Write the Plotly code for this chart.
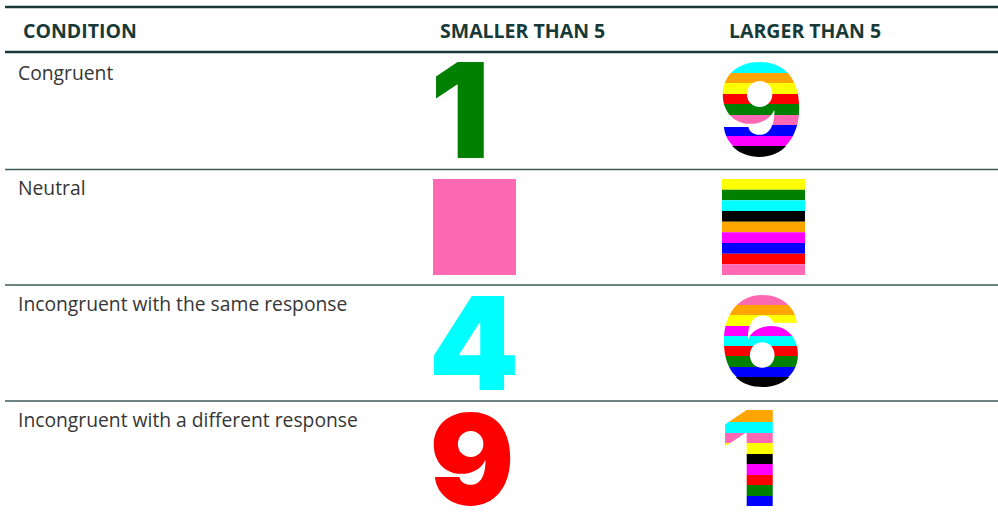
import math
import plotly.graph_objects as go

# ---------------- data ----------------
header_labels = ["CONDITION", "SMALLER THAN 5", "LARGER THAN 5"]
condition_labels = ["Congruent", "Neutral",
                    "Incongruent with the same response",
                    "Incongruent with a different response"]
smaller_digits = ["1", "", "4", "9"]          # "" = neutral block
smaller_colors = ["#008000", "#ff69b4", "#00ffff", "#ff0000"]
larger_digits = ["9", "", "6", "1"]
larger_stripes = [
    ["#00ffff", "#ffa500", "#ffff00", "#ff0000", "#008000", "#ff69b4", "#0000ff", "#ff00ff", "#000000"],
    ["#ffff00", "#008000", "#00ffff", "#000000", "#ffa500", "#ff00ff", "#0000ff", "#ff0000", "#ff69b4"],
    ["#ff69b4", "#ffa500", "#ffff00", "#ff00ff", "#00ffff", "#ff0000", "#008000", "#0000ff", "#000000"],
    ["#ffa500", "#00ffff", "#ff69b4", "#ffff00", "#000000", "#ff00ff", "#ff0000", "#008000", "#0000ff"],
]

# ---------------- layout geometry ----------------
FIG_W, FIG_H = 998, 515
row_tops = [52, 169.5, 285, 401]
label_baselines = [78.5, 194, 309.5, 425.5]
header_baseline = 36.5
header_x = [22, 439, 728]
label_x = 17
LINE_X0, LINE_X1 = 5, 998
DARK = "#173a38"
SEP = "#3f5a58"
BODY_SIZE = 19.3
HEAD_SIZE = 19.5

# digit cells: (ink centre x, baseline y, font px, stripe top, stripe bottom)
small_geo = [(460, 158, 132, None, None), None, (474, 390, 129, None, None), (471.5, 505.5, 126, None, None)]
large_geo = [(761, 155.5, 126, 62, 157), None, (760.5, 385.5, 122, 295, 387), (749, 506.5, 132, 411.5, 506.5)]
neutral_small_box = (433, 516, 179, 275)
neutral_large_box = (722, 805, 179, 275)

DIGIT_FONT = "Inter"
DIGIT_WEIGHT = 900
ASC, DESC = 0.969, 0.242
LS = 1.3
FILL = "&nbsp;"   # invisible spacer glyph that still has a line box


def solve_lines(delta, D):
    best = None
    for n in range(-300, 301):
        den = 0.65 * n + (ASC - DESC) / 2
        if abs(den) < 1e-9:
            continue
        s = delta / den
        if s < 1.5 or s > 6:
            continue
        score = abs(s - 3)
        if best is None or score < best[0]:
            best = (score, n, s)
    _, n, s = best
    u = LS * s
    jmin = math.ceil((ASC * D + 8) / u)
    kmin = math.ceil((DESC * D + 8) / u)
    j = max(jmin, kmin + n)
    k = j - n
    if k < kmin:
        j += kmin - k
        k = kmin
    return s, j, k


def band_annotation(ch, cx, baseline, D, y0, y1, color):
    if abs(baseline - (y0 + y1) / 2) < 1:
        y1 += 2
    yc = (y0 + y1) / 2
    hh = y1 - y0
    s, j, k = solve_lines(baseline - yc, D)
    text = FILL + "<br>" * j + f'<span style="font-size:{D}px">{ch}</span>' + "<br>" * k + FILL
    font = dict(family=DIGIT_FONT, size=s, color=color, weight=DIGIT_WEIGHT)
    return dict(x=cx, y=yc, xref="x", yref="y", xanchor="center", yanchor="middle",
                width=150, height=hh, valign="middle", align="center",
                showarrow=False, borderpad=0, borderwidth=0, text=text, font=font)


annotations = []
shapes = []

# rules
for y, w, c in [(7, 2.5, DARK), (52, 2.5, DARK)]:
    shapes.append(dict(type="line", xref="x", yref="y", x0=LINE_X0, x1=LINE_X1, y0=y, y1=y,
                       line=dict(color=c, width=w)))
for y in row_tops[1:]:
    shapes.append(dict(type="line", xref="x", yref="y", x0=LINE_X0, x1=LINE_X1, y0=y, y1=y,
                       line=dict(color=SEP, width=1.5)))

# header
for lab, x in zip(header_labels, header_x):
    annotations.append(dict(x=x, y=header_baseline - 1.069 * HEAD_SIZE, xref="x", yref="y",
                            xanchor="left", yanchor="top", showarrow=False, borderpad=0,
                            text=lab, font=dict(family="Open Sans", size=HEAD_SIZE, color=DARK, weight="bold")))
# condition labels
for lab, yb in zip(condition_labels, label_baselines):
    annotations.append(dict(x=label_x, y=yb - 1.069 * BODY_SIZE, xref="x", yref="y",
                            xanchor="left", yanchor="top", showarrow=False, borderpad=0,
                            text=lab, font=dict(family="Open Sans", size=BODY_SIZE, color="#363636")))

# smaller-than-5 column
for i, ch in enumerate(smaller_digits):
    col = smaller_colors[i]
    if ch == "":
        x0, x1, y0, y1 = neutral_small_box
        shapes.append(dict(type="rect", xref="x", yref="y", x0=x0, x1=x1, y0=y0, y1=y1,
                           fillcolor=col, line=dict(width=0)))
        continue
    cx, base, D, _, _ = small_geo[i]
    top = round(base - 0.78 * D - 6)
    bot = round(base + 6)
    annotations.append(band_annotation(ch, cx, base, D, top, bot, col))

# larger-than-5 column
for i, ch in enumerate(larger_digits):
    cols = larger_stripes[i]
    n = len(cols)
    if ch == "":
        x0, x1, y0, y1 = neutral_large_box
        h = (y1 - y0) / n
        for k, c in enumerate(cols):
            shapes.append(dict(type="rect", xref="x", yref="y", x0=x0, x1=x1,
                               y0=y0 + k * h, y1=y0 + (k + 1) * h,
                               fillcolor=c, line=dict(width=0)))
        continue
    cx, base, D, top, bot = large_geo[i]
    bounds = [round(top + k * (bot - top) / n) for k in range(n + 1)]
    for k, c in enumerate(cols):
        y0, y1 = bounds[k], bounds[k + 1]
        if k == 0:
            y0 -= 6
        if k == n - 1:
            y1 += 5
        annotations.append(band_annotation(ch, cx, base, D, y0, y1, c))

fig = go.Figure(go.Scatter(x=[0], y=[0], mode="markers", marker=dict(opacity=0),
                           hoverinfo="skip", showlegend=False))
fig.update_layout(
    width=FIG_W, height=FIG_H, autosize=False,
    margin=dict(l=0, r=0, t=0, b=0, pad=0),
    paper_bgcolor="white", plot_bgcolor="white",
    xaxis=dict(range=[0, FIG_W], visible=False, fixedrange=True),
    yaxis=dict(range=[FIG_H, 0], visible=False, fixedrange=True),
    shapes=shapes, annotations=annotations, showlegend=False,
)
fig.write_html("out.html", config={"displayModeBar": False},
               post_script="document.body.style.margin='0';document.body.style.overflow='hidden';")
